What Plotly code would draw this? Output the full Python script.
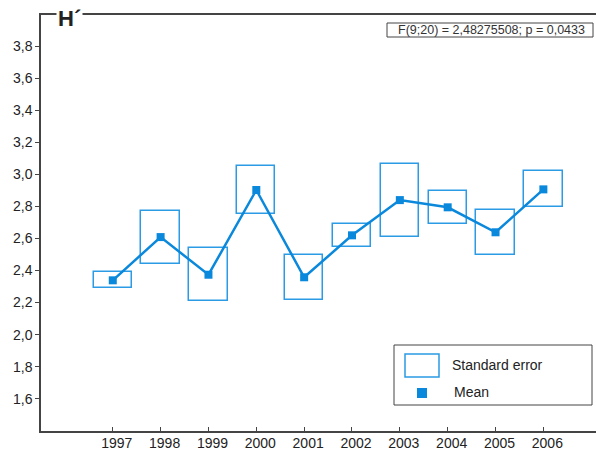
import plotly.graph_objects as go

years = [1997, 1998, 1999, 2000, 2001, 2002, 2003, 2004, 2005, 2006]
means = [2.339, 2.609, 2.374, 2.903, 2.358, 2.620, 2.840, 2.795, 2.639, 2.907]
std_err = [0.049, 0.165, 0.164, 0.149, 0.141, 0.070, 0.228, 0.104, 0.140, 0.113]
y_ticks = [1.6, 1.8, 2.0, 2.2, 2.4, 2.6, 2.8, 3.0, 3.2, 3.4, 3.6, 3.8]
stat_text = "F(9;20) = 2,48275508; p = 0,0433"
y_label = "H\u00b4"

W, H = 596, 451
ML, MR, MT, MB = 41, 0, 15, 20
FONT = "Liberation Sans, Arial, sans-serif"
LINE_BLUE = "#0a88dc"
BOX_BLUE = "#2a9be4"


def px(x):
    return (x - ML) / (W - ML - MR)


def py(y):
    return (H - MB - y) / (H - MT - MB)


fig = go.Figure()

# standard error boxes
fig.add_trace(go.Bar(
    x=years,
    y=[2 * s for s in std_err],
    base=[m - s for m, s in zip(means, std_err)],
    width=0.8,
    marker=dict(color="rgba(0,0,0,0)", line=dict(color=BOX_BLUE, width=1.5)),
    showlegend=False,
    hoverinfo="skip",
))

# means
fig.add_trace(go.Scatter(
    x=years, y=means, mode="lines+markers",
    line=dict(color=LINE_BLUE, width=2.5),
    marker=dict(symbol="square", size=8, color=LINE_BLUE),
    showlegend=False,
))

shapes = []
annotations = []

# stats box
shapes.append(dict(type="rect", xref="paper", yref="paper",
                   x0=px(387), x1=px(593), y0=py(37), y1=py(23),
                   line=dict(color="#444", width=1), fillcolor="white", layer="above"))
annotations.append(dict(xref="paper", yref="paper", x=px(491), y=py(30),
                        text=stat_text, showarrow=False, xanchor="center", yanchor="middle",
                        font=dict(family=FONT, size=12.5, color="#333")))

# legend box
shapes.append(dict(type="rect", xref="paper", yref="paper",
                   x0=px(394), x1=px(592), y0=py(405), y1=py(345),
                   line=dict(color="#444", width=1), fillcolor="white", layer="above"))
shapes.append(dict(type="rect", xref="paper", yref="paper",
                   x0=px(405), x1=px(439), y0=py(377), y1=py(354),
                   line=dict(color=BOX_BLUE, width=1.5), layer="above"))
shapes.append(dict(type="rect", xref="paper", yref="paper",
                   x0=px(417), x1=px(427), y0=py(398), y1=py(388),
                   line=dict(width=0), fillcolor=LINE_BLUE, layer="above"))
annotations.append(dict(xref="paper", yref="paper", x=px(450), y=py(365),
                        text="Standard error", showarrow=False, xanchor="left", yanchor="middle",
                        font=dict(family=FONT, size=14, color="#222")))
annotations.append(dict(xref="paper", yref="paper", x=px(452), y=py(392),
                        text="Mean", showarrow=False, xanchor="left", yanchor="middle",
                        font=dict(family=FONT, size=14, color="#222")))

# axis label H'
annotations.append(dict(xref="paper", yref="paper", x=px(69), y=py(19),
                        text="<b>" + y_label + "</b>", showarrow=False,
                        xanchor="center", yanchor="middle", bgcolor="white",
                        borderpad=1,
                        font=dict(family=FONT, size=22, color="#222")))

fig.update_layout(
    width=W, height=H,
    margin=dict(l=ML, r=MR, t=MT, b=MB, autoexpand=False),
    paper_bgcolor="white", plot_bgcolor="white",
    separators=", ",
    shapes=shapes, annotations=annotations,
    bargap=0,
)

fig.update_xaxes(
    range=[1995.5, 2007.1], tickvals=years, ticktext=[str(y) for y in years],
    showgrid=False, zeroline=False,
    showline=True, linecolor="#444", linewidth=1.5, mirror=True,
    ticks="inside", ticklen=4, tickcolor="#444", tickwidth=1,
    ticklabelshift=4, ticklabelstandoff=-2,
    tickfont=dict(family=FONT, size=14, color="#222"),
)
fig.update_yaxes(
    range=[1.398, 3.996], tickvals=y_ticks, tickformat=".1f",
    showgrid=False, zeroline=False,
    showline=True, linecolor="#444", linewidth=1.5,
    ticks="outside", ticklen=4, tickcolor="#444", tickwidth=1,
    tickfont=dict(family=FONT, size=14, color="#222"),
)

fig.write_html("out.html")
